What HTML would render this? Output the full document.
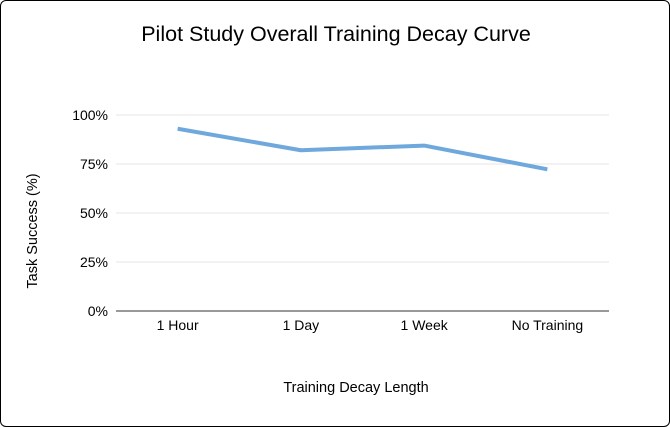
<!DOCTYPE html>
<html><head><meta charset="utf-8"><style>
html,body{margin:0;padding:0;background:#fff}
#wrap{position:relative;width:670px;height:427px;box-sizing:border-box;border:1.5px solid #000;border-radius:6px;overflow:hidden;background:#fff}
svg text{font-family:"Liberation Sans",Arial,sans-serif}
</style></head><body>
<div id="wrap">
<svg id="chart" width="670" height="427" style="position:absolute;left:-1.5px;top:-1.5px">
<text x="336" y="41" text-anchor="middle" font-size="21.5" fill="#000">Pilot Study Overall Training Decay Curve</text>
<text transform="translate(37,231) rotate(-90)" text-anchor="middle" font-size="14.5" fill="#000">Task Success (%)</text>
<text x="356" y="392" text-anchor="middle" font-size="14.5" fill="#000">Training Decay Length</text>
<g id="grid"></g><g id="xlabels"></g><g id="series"></g>
</svg>
</div>
<script>
const categories=["1 Hour","1 Day","1 Week","No Training"];
const values=[93,82,84.4,72.3];
const yTicks=[0,25,50,75,100];
const yTickLabels=["0%","25%","50%","75%","100%"];
const ns="http://www.w3.org/2000/svg";
const L=116,R=609,T=115,B=311;
const ys=v=>B-(v/100)*(B-T);
const xs=i=>L+(i+0.5)*(R-L)/categories.length;
const grid=document.getElementById('grid');
yTicks.forEach((t,i)=>{
 const ln=document.createElementNS(ns,'line');
 ln.setAttribute('x1',L);ln.setAttribute('x2',R);ln.setAttribute('y1',ys(t));ln.setAttribute('y2',ys(t));
 ln.setAttribute('stroke',t===0?'#333':'#e6e6e6');ln.setAttribute('stroke-width',1);
 
 
 grid.appendChild(ln);
 const tx=document.createElementNS(ns,'text');
 tx.setAttribute('x',L-8);tx.setAttribute('y',ys(t)+5);tx.setAttribute('text-anchor','end');tx.setAttribute('font-size','14');
 tx.textContent=yTickLabels[i];
 
 
 grid.appendChild(tx);
});
const xl=document.getElementById('xlabels');
categories.forEach((c,i)=>{
 const tx=document.createElementNS(ns,'text');
 tx.setAttribute('x',xs(i));tx.setAttribute('y',330);tx.setAttribute('text-anchor','middle');tx.setAttribute('font-size','14');
 tx.textContent=c;
 
 
 xl.appendChild(tx);
});
const pl=document.createElementNS(ns,'polyline');
pl.setAttribute('points',values.map((v,i)=>xs(i)+','+ys(v)).join(' '));
pl.setAttribute('fill','none');pl.setAttribute('stroke','#6fa8dc');pl.setAttribute('stroke-width','4');pl.setAttribute('stroke-linejoin','round');


document.getElementById('series').appendChild(pl);
</script>
</body></html>
